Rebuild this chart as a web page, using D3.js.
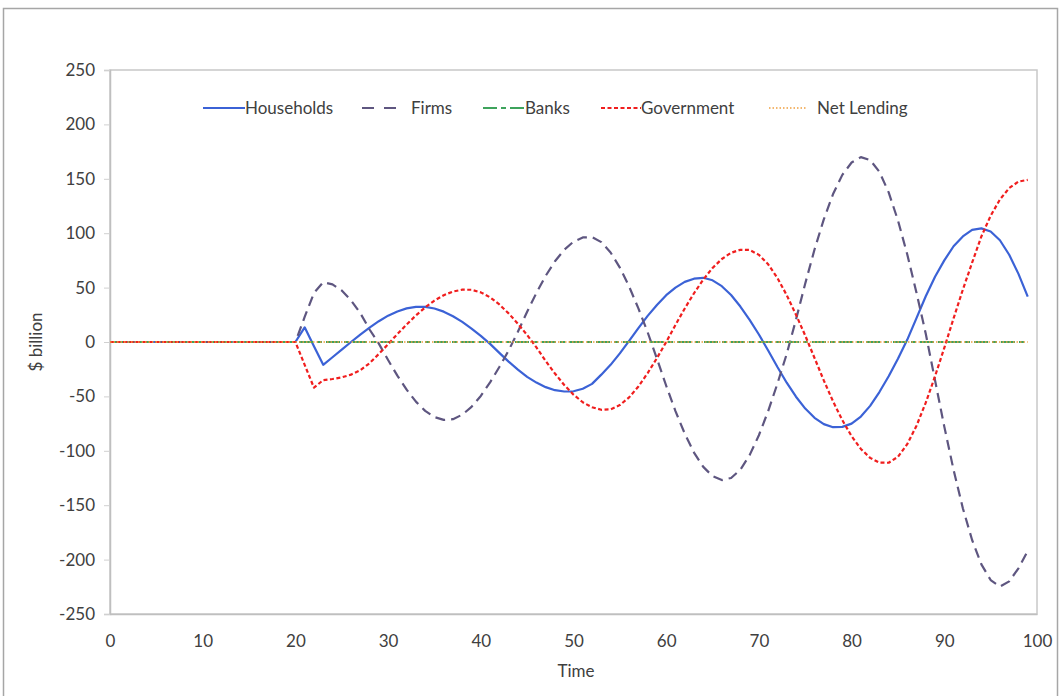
<!DOCTYPE html>
<html><head><meta charset="utf-8">
<script src="https://cdn.jsdelivr.net/npm/d3@7/dist/d3.min.js"></script>
<style>
body{margin:0;background:#fff;}
text{font-family:Lato,"Open Sans",sans-serif;fill:#404040;}
</style></head>
<body><svg id="c" width="1061" height="696"></svg>
<script>
const time = d3.range(0, 100);
const zeros20 = new Array(20).fill(0);
const households = zeros20.concat([
 0, 13.5, -4, -21, -14, -7, 0, 6.8, 13.2, 19.1,
 24.2, 28.1, 30.9, 32.3, 32.3, 30.8, 27.9, 23.7, 18.5, 12.3,
 5.6, -1.7, -10, -18, -25.4, -32, -37.3, -41.5, -44.3, -45.5,
 -45.3, -43, -38.5, -30, -21, -10.5, 1, 12.8, 24, 34,
 43, 50, 55.3, 58.2, 59, 56.7, 51.3, 43.2, 32.6, 20.3,
 6.9, -7.8, -23, -37.4, -50.3, -61.2, -69.7, -75.5, -78.3, -78,
 -75, -68.5, -58.7, -46, -31.5, -15.3, 2, 22, 42, 60,
 75, 88, 97, 103, 104.4, 101.6, 93.5, 80.2, 62.6, 41.7
]);
const firms = zeros20.concat([
 0, 23, 45, 55, 53, 47.3, 38.3, 26.6, 11.5, -1.5,
 -16.6, -30.9, -43.8, -54.8, -63.3, -69, -71.6, -70.9, -66.8, -59.6,
 -49.6, -37.1, -23, -7.8, 9.4, 27.8, 45.1, 60.8, 74.2, 84.8,
 92.2, 96.1, 96.4, 91.8, 82.3, 68.4, 51, 30.9, 8.9, -15.3,
 -40.2, -63.5, -84.2, -101.6, -114.8, -123.3, -126.9, -125, -117.4, -104,
 -85.7, -63.5, -38.2, -11, 20.5, 53.8, 85, 112.7, 136, 153.6,
 165, 169.9, 167.2, 156.4, 137.5, 111.8, 80.6, 45.3, 7.6, -35.2,
 -77.8, -117.5, -152.8, -182, -204.4, -218.8, -224.8, -220, -208, -192
]);
const banks = new Array(100).fill(0);
const government = zeros20.concat([
 0, -21, -42, -35, -34, -32.5, -30, -26, -19.5, -11,
 -2, 7.3, 16.1, 24.4, 31.8, 38.1, 43, 46.4, 48.1, 48,
 45.6, 41.1, 34.5, 26.3, 16.8, 6.4, -5, -17.4, -29, -39.5,
 -48.4, -55.4, -60, -62.3, -61.9, -58, -50.9, -40.9, -28.6, -14.8,
 0, 15.7, 30.8, 44.8, 57.4, 68, 76.3, 82, 84.8, 84.6,
 80.1, 71.4, 58.8, 43.1, 25.1, 5.9, -14.7, -35.3, -54.6, -71.9,
 -86.6, -98.3, -106.5, -110.9, -111, -105.5, -93.9, -77, -55.8, -31.5,
 -5.4, 21.7, 48.1, 72.9, 97, 116, 131, 141.5, 147.4, 149
]);
const netLending = new Array(100).fill(0);

const seriesNames = ["Households", "Firms", "Banks", "Government", "Net Lending"];
const seriesValues = [households, firms, banks, government, netLending];
const seriesColors = ["#3b62d6", "#5e5680", "#3ea35c", "#f01e1e", "#f0a040"];
const seriesDash = [null, "10,6", "14,4,5,4", "4,2.5", "1.5,2"];
const seriesWidth = [2.2, 2.2, 2.2, 2.2, 1.5];
const xTicks = d3.range(0, 101, 10);
const yTicks = d3.range(-250, 251, 50);

const svg = d3.select("#c");
const L = 110, R = 1037, T = 70, B = 614;
const x = d3.scaleLinear().domain([0, 100]).range([L, R]);
const y = d3.scaleLinear().domain([-250, 250]).range([B, T]);

// chart frame
svg.append("rect").attr("x", 3.5).attr("y", 8.5).attr("width", 1054).attr("height", 700)
  .attr("fill", "#fff").attr("stroke", "#a6a6a6").attr("stroke-width", 1.5);

// plot border
svg.append("rect").attr("x", L).attr("y", T).attr("width", R - L).attr("height", B - T)
  .attr("fill", "none").attr("stroke", "#c8c8c8").attr("stroke-width", 1.5);

// axes
const yAxis = svg.append("g").attr("transform", `translate(${L},0)`)
  .call(d3.axisLeft(y).tickValues(yTicks).tickFormat(d => String(d)).tickSize(6).tickPadding(9));
yAxis.select(".domain").attr("stroke", "#bfbfbf").attr("stroke-width", 1.5);
yAxis.selectAll(".tick line").attr("stroke", "#d0d0d0");
yAxis.selectAll("text").style("font-size", "17px").attr("fill", "#404040").style("font-family", "Lato");

const xAxis = svg.append("g").attr("transform", `translate(0,${B})`)
  .call(d3.axisBottom(x).tickValues(xTicks).tickFormat(d => String(d)).tickSize(0).tickPadding(21));
xAxis.select(".domain").attr("stroke", "#bfbfbf").attr("stroke-width", 1.5);
xAxis.selectAll("text").style("font-size", "17px").attr("fill", "#404040").style("font-family", "Lato");

// axis titles
svg.append("text").attr("x", 576).attr("y", 677).attr("text-anchor", "middle")
  .style("font-size", "17px").text("Time");
svg.append("text").attr("transform", "translate(42,342) rotate(-90)").attr("text-anchor", "middle")
  .style("font-size", "17px").text("$ billion");

// lines
const line = d3.line().x((d, i) => x(time[i])).y(d => y(d));
seriesValues.forEach((vals, k) => {
  svg.append("path").datum(vals).attr("d", line)
    .attr("fill", "none").attr("stroke", seriesColors[k])
    .attr("stroke-width", seriesWidth[k])
    .attr("stroke-dasharray", seriesDash[k])
    .attr("stroke-linejoin", "round");
});

// legend
const legendX = [203, 362, 483, 601, 769];
const legendLen = [42, 34, 41, 40, 38];
const legendTextX = [245, 411, 525, 641, 817];
const lg = svg.append("g");
seriesNames.forEach((name, k) => {
  const lx = legendX[k];
  lg.append("line").attr("x1", lx).attr("x2", lx + legendLen[k]).attr("y1", 108).attr("y2", 108)
    .attr("stroke", seriesColors[k]).attr("stroke-width", seriesWidth[k])
    .attr("stroke-dasharray", k === 1 ? "12,10" : seriesDash[k]);
  lg.append("text").attr("x", legendTextX[k]).attr("y", 114)
    .style("font-size", "17px").text(name);
});
</script></body></html>
